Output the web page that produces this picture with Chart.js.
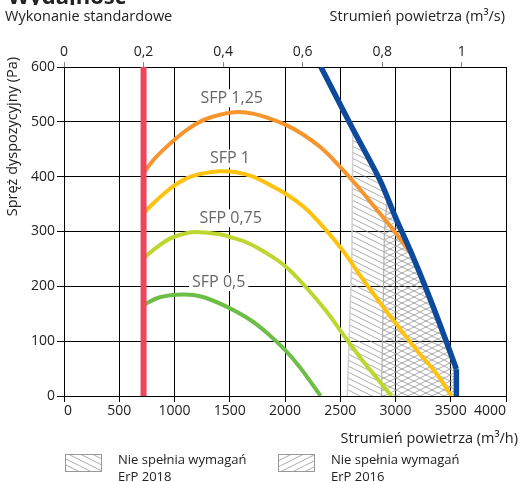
<!DOCTYPE html>
<html>
<head>
<meta charset="utf-8">
<script src="https://cdn.jsdelivr.net/npm/chart.js@4.4.1/dist/chart.umd.min.js"></script>
<style>
  body { margin: 0; background: #fff; }
  canvas { display: block; }
</style>
</head>
<body>
<canvas id="chart" width="520" height="482"></canvas>
<script>
// air flow (m3/h) vs available pressure (Pa)
const minFlowX = [720, 720];
const minFlowY = [0, 600];

const sfp125X = [720, 807, 958, 1109, 1259, 1410, 1575, 1711, 1862, 2012, 2163, 2313, 2433, 2614, 2826, 3006, 3145];
const sfp125Y = [406, 430, 460, 485, 503, 513, 518, 515, 506, 494, 477, 455, 432, 392, 341, 296, 258];

const sfp1X = [720, 807, 958, 1109, 1259, 1410, 1560, 1711, 1862, 2012, 2163, 2271, 2497, 2708, 2889, 3000, 3190, 3370, 3506];
const sfp1Y = [333, 351, 378, 397, 406, 410, 408, 400, 385, 368, 346, 325, 272, 212, 162, 133, 84, 41, 0];

const sfp075X = [720, 807, 958, 1109, 1199, 1410, 1503, 1654, 1804, 2000, 2196, 2376, 2527, 2708, 2858, 2964];
const sfp075Y = [251, 266, 287, 297, 299, 295, 290, 280, 264, 237, 197, 154, 112, 63, 26, 0];

const sfp05X = [720, 867, 1078, 1250, 1470, 1684, 1865, 2000, 2136, 2322];
const sfp05Y = [166, 180, 185, 181, 163, 139, 110, 84, 52, 0];

// fan limit: curved part, then the straight drop to zero
const maxFlowX = [2325, 2614, 2856, 3006, 3145, 3280, 3431, 3551];
const maxFlowY = [600, 487, 395, 323, 260, 194, 115, 49];
const maxFlowEndX = [3551, 3551];
const maxFlowEndY = [49, 0];

// left edges of the hatched "not compliant" zones
const erp2018EdgeX = [2563, 2605, 2614];
const erp2018EdgeY = [0, 250, 487];
const erp2016EdgeX = [2873, 2900, 2925];
const erp2016EdgeY = [0, 300, 361];

const topTicks = [0, 0.2, 0.4, 0.6, 0.8, 1];

const sfpLabels = ['SFP 1,25', 'SFP 1', 'SFP 0,75', 'SFP 0,5'];
const sfpLabelX = [1518, 1501, 1508, 1400];
const sfpLabelY = [543, 433, 324, 208];

const FONT = '"Open Sans", sans-serif';

function pts(xs, ys) {
  return xs.map((x, i) => ({ x: x, y: ys[i] }));
}

function zone(edgeX, edgeY) {
  const top = edgeX[edgeX.length - 1];
  const rest = pts(maxFlowX, maxFlowY).concat(pts(maxFlowEndX, maxFlowEndY)).filter(p => p.x > top);
  return pts(edgeX, edgeY).concat(rest);
}

function hatch(dir) {
  const c = document.createElement('canvas');
  c.width = 12;
  c.height = 6;
  const g = c.getContext('2d');
  g.strokeStyle = '#8a8a8a';
  g.lineWidth = 0.7;
  for (let k = -1; k <= 1; k++) {
    g.beginPath();
    if (dir > 0) {
      g.moveTo(0, 6 * k);
      g.lineTo(12, 6 * k + 6);
    } else {
      g.moveTo(0, 6 * k + 6);
      g.lineTo(12, 6 * k);
    }
    g.stroke();
  }
  return g.createPattern(c, 'repeat');
}

const hatch2018 = hatch(1);
const hatch2016 = hatch(-1);

function curve(data, color, width, tension) {
  return {
    data: data,
    showLine: true,
    borderColor: color,
    borderWidth: width,
    pointRadius: 0,
    tension: tension,
    fill: false
  };
}

const textPlugin = {
  id: 'texts',
  afterDraw(chart) {
    const { ctx } = chart;
    const sx = chart.scales.x, sy = chart.scales.y;
    ctx.save();

    // title, cut off at the top of the picture
    ctx.save();
    ctx.beginPath();
    ctx.rect(0, 0, 200, 5);
    ctx.clip();
    ctx.fillStyle = '#222';
    ctx.font = 'bold 22px ' + FONT;
    ctx.textAlign = 'left';
    ctx.textBaseline = 'alphabetic';
    ctx.fillText('Wydajność', 8, 4);
    ctx.restore();

    ctx.fillStyle = '#222';
    ctx.font = '14.5px ' + FONT;
    ctx.textBaseline = 'middle';
    ctx.textAlign = 'left';
    ctx.fillText('Wykonanie standardowe', 5, 17);
    ctx.textAlign = 'right';
    ctx.fillText('Strumień powietrza (m³/s)', 505, 17);
    ctx.fillText('Strumień powietrza (m³/h)', 518, 439);

    ctx.save();
    ctx.translate(13, 57);
    ctx.rotate(-Math.PI / 2);
    ctx.textAlign = 'right';
    ctx.fillText('Spręż dyspozycyjny (Pa)', 0, 0);
    ctx.restore();

    // SFP curve labels
    ctx.font = '16px ' + FONT;
    ctx.textAlign = 'center';
    sfpLabels.forEach((t, i) => {
      const px = sx.getPixelForValue(sfpLabelX[i]);
      const py = sy.getPixelForValue(sfpLabelY[i]);
      const w = ctx.measureText(t).width;
      ctx.fillStyle = '#fff';
      ctx.fillRect(px - w / 2 - 3, py - 9, w + 6, 18);
      ctx.fillStyle = '#666';
      ctx.fillText(t, px, py);
    });

    // legend
    const items = [
      { x: 65, pattern: hatch2018, text: 'ErP 2018' },
      { x: 278, pattern: hatch2016, text: 'ErP 2016' }
    ];
    ctx.font = '13px ' + FONT;
    ctx.textAlign = 'left';
    ctx.textBaseline = 'alphabetic';
    items.forEach(it => {
      ctx.fillStyle = it.pattern;
      ctx.fillRect(it.x, 454, 36, 17);
      ctx.strokeStyle = '#999';
      ctx.lineWidth = 1;
      ctx.strokeRect(it.x + 0.5, 454.5, 36, 17);
      ctx.fillStyle = '#222';
      ctx.fillText('Nie spełnia wymagań', it.x + 53, 464);
      ctx.fillText(it.text, it.x + 53, 481);
    });

    ctx.restore();
  }
};

const noSidePadding = s => { s.paddingLeft = 0; s.paddingRight = 0; };

new Chart(document.getElementById('chart'), {
  type: 'scatter',
  data: {
    datasets: [
      curve(pts(minFlowX, minFlowY), '#F0445C', 6, 0),
      curve(pts(maxFlowX, maxFlowY), '#0E4A9B', 5.5, 0.3),
      curve(pts(maxFlowEndX, maxFlowEndY), '#0E4A9B', 5.5, 0),
      curve(pts(sfp125X, sfp125Y), '#F7952D', 4, 0.4),
      curve(pts(sfp1X, sfp1Y), '#FFC30F', 4, 0.4),
      curve(pts(sfp075X, sfp075Y), '#BED630', 4, 0.4),
      curve(pts(sfp05X, sfp05Y), '#6DBE46', 4, 0.4),
      {
        data: zone(erp2016EdgeX, erp2016EdgeY),
        showLine: true,
        borderColor: '#b0b0b0',
        borderWidth: 1.2,
        pointRadius: 0,
        tension: 0,
        backgroundColor: hatch2016,
        fill: 'origin'
      },
      {
        data: zone(erp2018EdgeX, erp2018EdgeY),
        showLine: true,
        borderColor: '#d0d0d0',
        borderWidth: 1.5,
        pointRadius: 0,
        tension: 0,
        backgroundColor: hatch2018,
        fill: 'origin'
      }
    ]
  },
  options: {
    responsive: false,
    animation: false,
    layout: { padding: { left: 0, right: 14, top: 0, bottom: 0 } },
    plugins: { legend: { display: false }, tooltip: { enabled: false } },
    scales: {
      x: {
        type: 'linear',
        position: 'bottom',
        min: 0,
        max: 4000,
        afterFit: s => { s.height = 86; noSidePadding(s); },
        ticks: {
          stepSize: 500,
          align: 'inner',
          color: '#222',
          font: { family: FONT, size: 14 },
          padding: 1,
          maxRotation: 0,
          callback: v => String(v)
        },
        grid: { color: '#000', lineWidth: 1, tickLength: 6 },
        border: { color: '#000', width: 1 }
      },
      x2: {
        type: 'linear',
        position: 'top',
        min: 0,
        max: 4000 / 3600,
        afterFit: s => { s.height = 67; noSidePadding(s); },
        afterBuildTicks: s => { s.ticks = topTicks.map(v => ({ value: v })); },
        ticks: {
          color: '#222',
          font: { family: FONT, size: 14 },
          padding: 2,
          maxRotation: 0,
          callback: v => String(v).replace('.', ',')
        },
        grid: { drawOnChartArea: false, color: '#888', tickLength: 5 },
        border: { display: false }
      },
      y: {
        min: 0,
        max: 600,
        afterFit: s => { s.width = 64; s.paddingTop = 0; s.paddingBottom = 0; },
        ticks: { stepSize: 100, color: '#222', font: { family: FONT, size: 14 }, padding: 2 },
        grid: { color: '#000', lineWidth: 1, tickLength: 7 },
        border: { color: '#000', width: 1 }
      }
    }
  },
  plugins: [textPlugin]
});
</script>
</body>
</html>
